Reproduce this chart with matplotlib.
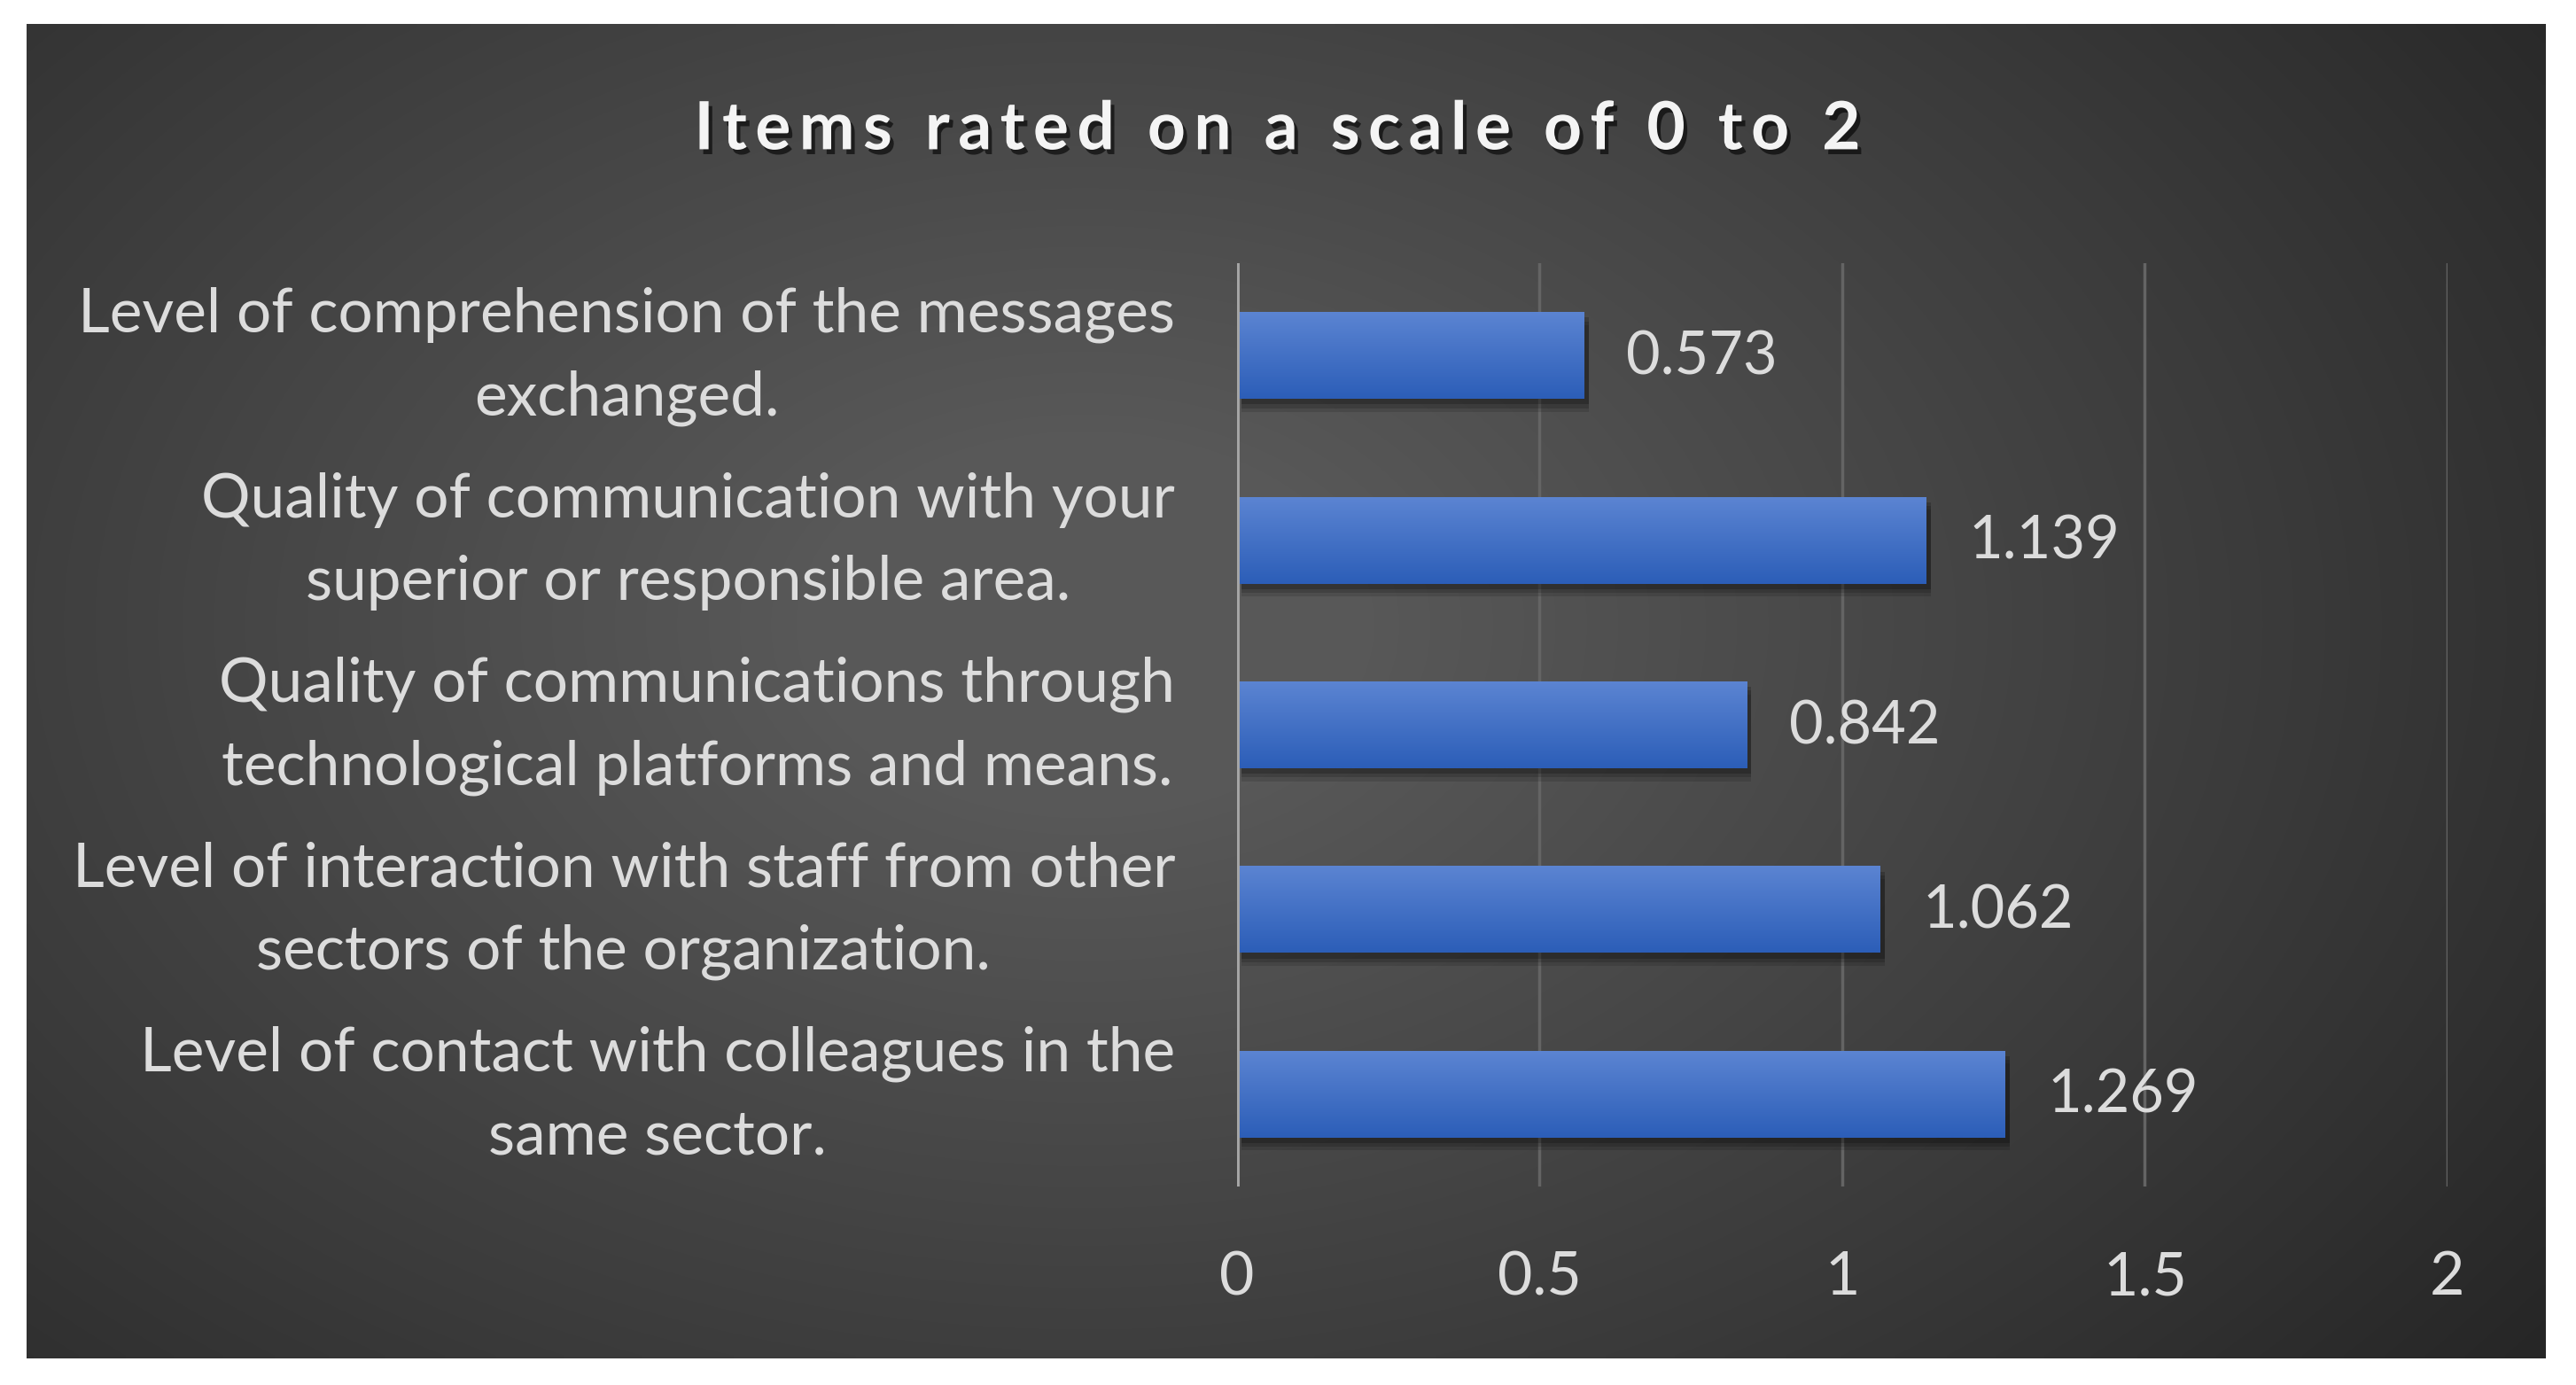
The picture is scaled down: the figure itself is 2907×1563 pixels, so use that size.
import matplotlib
matplotlib.use("Agg")
import matplotlib.pyplot as plt
import matplotlib.patheffects as pe
import matplotlib.transforms as mtrans
from matplotlib.colors import LinearSegmentedColormap
import numpy as np

# chart data
categories = [
    "Level of comprehension of the messages\nexchanged.",
    "Quality of communication with your\nsuperior or responsible area.",
    "Quality of communications through\ntechnological platforms and means.",
    "Level of interaction with staff from other\nsectors of the organization.",
    "Level of contact with colleagues in the\nsame sector.",
]
values = [0.573, 1.139, 0.842, 1.062, 1.269]
value_labels = ["0.573", "1.139", "0.842", "1.062", "1.269"]
x_ticks = [0, 0.5, 1, 1.5, 2]
x_tick_labels = ["0", "0.5", "1", "1.5", "2"]
title = "Items rated on a scale of 0 to 2"

FONT = ["Lato", "DejaVu Sans"]
TXT = "#dcdcdc"


def main():
    fig = plt.figure(figsize=(29.07, 15.63), dpi=100)
    fig.patch.set_facecolor("white")

    # dark panel with radial gradient
    bg = fig.add_axes([0.0103, 0.0192, 0.9777, 0.9635])
    gx, gy = np.meshgrid(np.linspace(0, 1, 400), np.linspace(0, 1, 220))
    d = np.sqrt(((gx - 0.42) / 0.75) ** 2 + ((gy - 0.45) / 0.95) ** 2)
    shade = np.clip(1 - d, 0, 1)
    bg_cmap = LinearSegmentedColormap.from_list("bg", ["#242424", "#585858"])
    bg.imshow(shade, cmap=bg_cmap, aspect="auto", extent=[0, 1, 0, 1],
              vmin=0, vmax=0.85, interpolation="bilinear")
    bg.set_axis_off()

    ax = fig.add_axes([0.4802, 0.1433, 0.4699, 0.6667])
    ax.patch.set_alpha(0)
    y = np.arange(len(categories))
    h = 0.47

    # shadows under bars
    for k, a in [(0.07, 0.12), (0.05, 0.15), (0.03, 0.2)]:
        ax.barh(y + k, values, height=h, left=0.008, color="black",
                alpha=a, zorder=2, linewidth=0)

    bars = ax.barh(y, values, height=h, color="#3f6cc8", zorder=3, linewidth=0)
    bar_cmap = LinearSegmentedColormap.from_list("bar", ["#5b84d2", "#2c5eb8"])
    grad = np.linspace(0, 1, 64).reshape(-1, 1)
    for b, yi, v in zip(bars, y, values):
        im = ax.imshow(grad, cmap=bar_cmap, aspect="auto", zorder=4,
                       extent=[0, v, yi + h / 2, yi - h / 2],
                       interpolation="bilinear")
        im.set_clip_path(b)

    for yi, v, lab in zip(y, values, value_labels):
        ax.text(v + 0.07, yi + 0.01, lab, va="center", ha="left", color=TXT,
                fontsize=48, family=FONT, zorder=5)

    ax.set_xlim(0, 2)
    ax.set_ylim(len(categories) - 0.5, -0.5)

    # grid
    for xt in x_ticks[1:]:
        ax.axvline(xt, color="#646464", lw=2.5, zorder=1)
    ax.axvline(0, color="#a6a6a6", lw=3.5, zorder=5)

    ax.set_xticks(x_ticks)
    ax.set_xticklabels(x_tick_labels, family=FONT, fontsize=49, color=TXT)
    ax.set_yticks(y)
    ax.set_yticklabels([])
    ax.tick_params(axis="both", length=0)
    ax.tick_params(axis="x", pad=52)
    for s in ax.spines.values():
        s.set_visible(False)

    # category labels: block right aligned, lines centred
    trans = mtrans.blended_transform_factory(ax.transAxes, ax.transData)
    for yi, lab in zip(y, categories):
        ax.text(-0.0512, yi + 0.007, lab, transform=trans, ha="right",
                va="center", multialignment="center", color=TXT,
                fontsize=50, family=FONT, linespacing=1.6)

    spaced = "\u2009".join(title)
    fig.text(0.496, 0.906, spaced, ha="center", va="center", color="#f4f4f4",
             fontsize=54, fontweight="bold", family=FONT,
             path_effects=[pe.SimplePatchShadow(offset=(3, -4), alpha=0.6,
                                                shadow_rgbFace="black"),
                           pe.Normal()])

    fig.savefig("out.png", dpi=100, facecolor="white")


if __name__ == "__main__":
    main()
